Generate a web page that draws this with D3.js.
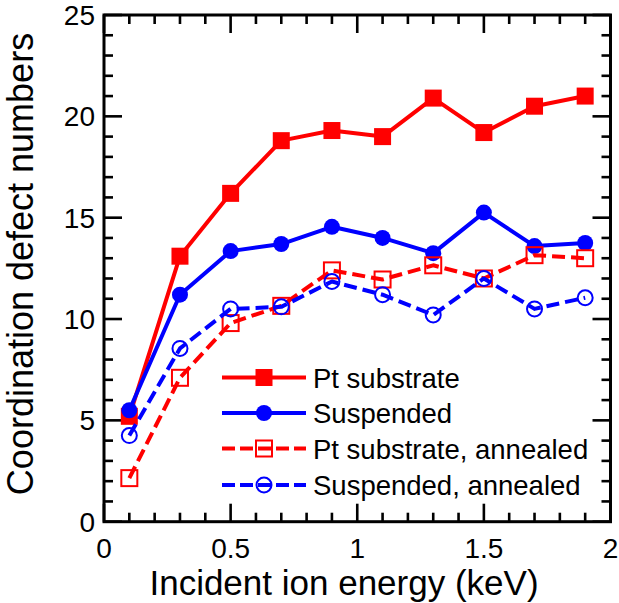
<!DOCTYPE html>
<html>
<head>
<meta charset="utf-8">
<script src="https://cdn.jsdelivr.net/npm/d3@7"></script>
<style>
  html, body { margin: 0; padding: 0; background: #fff; }
  svg text { font-family: "Liberation Sans", Arial, Helvetica, sans-serif; fill: #000; }
</style>
</head>
<body>
<svg id="chart" width="619" height="603"></svg>
<script>
const energies = [0.1, 0.3, 0.5, 0.7, 0.9, 1.1, 1.3, 1.5, 1.7, 1.9];
const ptSubstrate = [5.2, 13.1, 16.2, 18.8, 19.3, 19.0, 20.9, 19.2, 20.5, 21.0];
const suspended = [5.5, 11.2, 13.35, 13.7, 14.55, 14.0, 13.25, 15.25, 13.6, 13.75];
const ptAnnealed = [2.15, 7.1, 9.8, 10.65, 12.4, 11.95, 12.65, 12.0, 13.15, 13.0];
const suspAnnealed = [4.25, 8.55, 10.5, 10.6, 11.85, 11.2, 10.2, 12.0, 10.5, 11.05];
const seriesNames = ["Pt substrate", "Suspended", "Pt substrate, annealed", "Suspended, annealed"];
const xTicks = [0, 0.5, 1, 1.5, 2];
const xTickLabels = ["0", "0.5", "1", "1.5", "2"];
const yTicks = [0, 5, 10, 15, 20, 25];
const xLabel = "Incident ion energy (keV)";
const yLabel = "Coordination defect numbers";

const series = [
  { name: seriesNames[0], values: ptSubstrate, color: "#ff0000", dashed: false, marker: "square", filled: true },
  { name: seriesNames[1], values: suspended, color: "#0000ff", dashed: false, marker: "circle", filled: true },
  { name: seriesNames[2], values: ptAnnealed, color: "#ff0000", dashed: true, marker: "square", filled: false },
  { name: seriesNames[3], values: suspAnnealed, color: "#0000ff", dashed: true, marker: "circle", filled: false }
];

const svg = d3.select("#chart");
const L = 104, R = 610.5, T = 15, B = 521.7;
const x = d3.scaleLinear().domain([0, 2]).range([L, R]);
const y = d3.scaleLinear().domain([0, 25]).range([B, T]);

// ticks (inward, all four sides)
const tickG = svg.append("g").attr("stroke", "#000").attr("stroke-width", 2.6);
const xMinor = d3.range(0, 2.0001, 0.1);
xMinor.forEach(v => {
  const major = Math.abs(v * 2 - Math.round(v * 2)) < 1e-6;
  const len = major ? 18 : 9;
  tickG.append("line").attr("x1", x(v)).attr("x2", x(v)).attr("y1", B).attr("y2", B - len);
  tickG.append("line").attr("x1", x(v)).attr("x2", x(v)).attr("y1", T).attr("y2", T + len);
});
const yMinor = d3.range(0, 25.0001, 1);
yMinor.forEach(v => {
  const major = v % 5 === 0;
  const len = major ? 18 : 9;
  tickG.append("line").attr("y1", y(v)).attr("y2", y(v)).attr("x1", L).attr("x2", L + len);
  tickG.append("line").attr("y1", y(v)).attr("y2", y(v)).attr("x1", R).attr("x2", R - len);
});

// frame
svg.append("rect").attr("x", L).attr("y", T).attr("width", R - L).attr("height", B - T)
  .attr("fill", "none").attr("stroke", "#000").attr("stroke-width", 3);

// tick labels
svg.append("g").selectAll("text").data(xTicks).join("text")
  .attr("x", d => x(d)).attr("y", 558)
  .attr("text-anchor", "middle").attr("font-size", 28)
  .text((d, i) => xTickLabels[i]);
svg.append("g").selectAll("text").data(yTicks).join("text")
  .attr("x", 95).attr("y", d => y(d) + 10)
  .attr("text-anchor", "end").attr("font-size", 28)
  .text(d => d);

// axis titles
svg.append("text").attr("x", 344).attr("y", 595).attr("text-anchor", "middle")
  .attr("font-size", 35).text(xLabel);
svg.append("text").attr("transform", "translate(33,264) rotate(-90)")
  .attr("text-anchor", "middle").attr("font-size", 36).text(yLabel);

// series
const line = d3.line().x(d => x(d[0])).y(d => y(d[1]));
function drawMarker(g, m, cx, cy, color) {
  if (m.marker === "square") {
    const s = m.filled ? 17 : 16;
    g.append("rect").attr("x", cx - s / 2).attr("y", cy - s / 2).attr("width", s).attr("height", s)
      .attr("fill", m.filled ? color : "none").attr("stroke", color)
      .attr("stroke-width", m.filled ? 0 : 2);
  } else {
    const r = m.filled ? 8 : 7.5;
    g.append("circle").attr("cx", cx).attr("cy", cy).attr("r", r)
      .attr("fill", m.filled ? color : "none").attr("stroke", color)
      .attr("stroke-width", m.filled ? 0 : 2);
  }
}
series.forEach(s => {
  const pts = energies.map((e, i) => [e, s.values[i]]);
  const g = svg.append("g");
  g.append("path").attr("d", line(pts)).attr("fill", "none").attr("stroke", s.color)
    .attr("stroke-width", 4).attr("stroke-linejoin", "round")
    .attr("stroke-dasharray", s.dashed ? "13,6" : null);
  pts.forEach(p => drawMarker(g, s, x(p[0]), y(p[1]), s.color));
});

// legend
const legendY = [377.5, 413, 448.5, 485];
series.forEach((s, i) => {
  const g = svg.append("g");
  const ly = legendY[i];
  g.append("line").attr("x1", 222).attr("x2", 306).attr("y1", ly).attr("y2", ly)
    .attr("stroke", s.color).attr("stroke-width", 4)
    .attr("stroke-dasharray", s.dashed ? "13,5" : null);
  drawMarker(g, s, 264, ly, s.color);
  g.append("text").attr("x", 313).attr("y", ly + 10).attr("font-size", 27.5).text(s.name);
});
</script>
</body>
</html>
